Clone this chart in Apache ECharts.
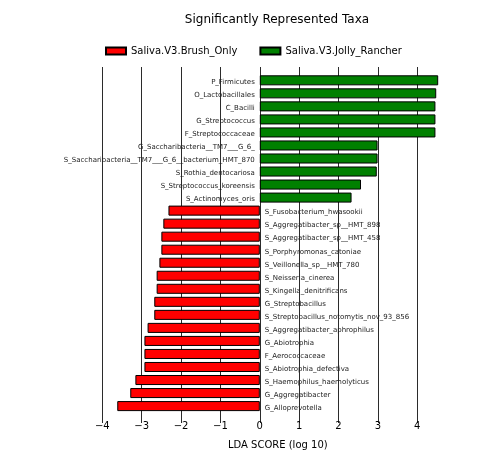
<!DOCTYPE html>
<html>
<head>
<meta charset="utf-8">
<script src="https://cdn.jsdelivr.net/npm/echarts@6/dist/echarts.min.js"></script>
<style>
    html, body {margin: 0; padding: 0; background: #fff;}
    #main {width: 504px; height: 464px;}
</style>
</head>
<body>
<div id="main"></div>
<script>
//Jolly_Rancher 组（绿色，正值）
var jollyTaxa = ['P_Firmicutes', 'O_Lactobacillales', 'C_Bacilli', 'G_Streptococcus', 'F_Streptococcaceae',
    'G_Saccharibacteria__TM7___G_6_', 'S_Saccharibacteria__TM7___G_6__bacterium_HMT_870',
    'S_Rothia_dentocariosa', 'S_Streptococcus_koreensis', 'S_Actinomyces_oris'];
var jollyScores = [4.53, 4.48, 4.46, 4.46, 4.46, 2.99, 2.99, 2.97, 2.57, 2.33];

//Brush_Only 组（红色，负值）
var brushTaxa = ['S_Fusobacterium_hwasookii', 'S_Aggregatibacter_sp__HMT_898', 'S_Aggregatibacter_sp__HMT_458',
    'S_Porphyromonas_catoniae', 'S_Veillonella_sp__HMT_780', 'S_Neisseria_cinerea', 'S_Kingella_denitrificans',
    'G_Streptobacillus', 'S_Streptobacillus_notomytis_nov_93_856', 'S_Aggregatibacter_aphrophilus',
    'G_Abiotrophia', 'F_Aerococcaceae', 'S_Abiotrophia_defectiva', 'S_Haemophilus_haemolyticus',
    'G_Aggregatibacter', 'G_Alloprevotella'];
var brushScores = [-2.32, -2.45, -2.50, -2.50, -2.55, -2.62, -2.62, -2.68, -2.68, -2.85,
    -2.93, -2.93, -2.93, -3.16, -3.29, -3.62];

var xTicks = [-4, -3, -2, -1, 0, 1, 2, 3, 4];

var categories = jollyTaxa.concat(brushTaxa);
var jollyData = jollyScores.concat(brushTaxa.map(function () { return '-'; }));
var brushData = jollyTaxa.map(function () { return '-'; }).concat(brushScores);

var font = 'DejaVu Sans';

var barLabel = function (pos) {
    return {
        show: true,
        position: pos,
        distance: 5,
        offset: [0, 2],
        fontFamily: font,
        fontSize: 7,
        color: '#222',
        formatter: function (p) { return p.name; }
    };
};

var myChart = echarts.init(document.getElementById('main'));
myChart.setOption({
    animation: false,
    title: {
        text: 'Significantly Represented Taxa',
        left: 272,
        textAlign: 'center',
        top: 9,
        textStyle: {fontFamily: font, fontSize: 12, fontWeight: 'normal', color: '#000'}
    },
    legend: {
        left: 100,
        top: 41,
        itemWidth: 20,
        itemHeight: 7,
        itemGap: 22,
        icon: 'rect',
        textStyle: {fontFamily: font, fontSize: 10, color: '#000'},
        data: ['Saliva.V3.Brush_Only', 'Saliva.V3.Jolly_Rancher']
    },
    grid: [
        //网格线与刻度
        {left: 102.3, right: 86.7, top: 67, bottom: 46},
        //柱子
        {left: 102.3, right: 47.3, top: 73.8, bottom: 51.4}
    ],
    xAxis: [
        {
            gridIndex: 0,
            type: 'value',
            min: xTicks[0],
            max: xTicks[xTicks.length - 1],
            interval: 1,
            name: 'LDA SCORE (log 10)',
            nameLocation: 'middle',
            nameGap: 22,
            nameTextStyle: {fontFamily: font, fontSize: 10, color: '#000', padding: [0, 0, 0, 36]},
            axisLine: {show: false},
            axisTick: {show: true, length: 5, lineStyle: {color: '#2b2b2b', width: 1}},
            axisLabel: {
                margin: 3,
                fontFamily: font,
                fontSize: 10,
                color: '#000',
                formatter: function (v) { return String(v).replace('-', '\u2212'); }
            },
            splitLine: {show: true, lineStyle: {color: '#2b2b2b', width: 1}}
        },
        {
            gridIndex: 1,
            type: 'value',
            min: -4,
            max: 5,
            show: false,
            splitLine: {show: false}
        }
    ],
    yAxis: [
        {gridIndex: 0, type: 'category', data: categories, show: false},
        {gridIndex: 1, type: 'category', data: categories, inverse: true, show: false}
    ],
    series: [
        {
            name: 'Saliva.V3.Brush_Only',
            type: 'bar',
            xAxisIndex: 1,
            yAxisIndex: 1,
            data: brushData,
            barCategoryGap: '23%',
            barGap: '-100%',
            itemStyle: {color: '#ff0000', borderColor: '#000', borderWidth: 1},
            label: barLabel('right')
        },
        {
            name: 'Saliva.V3.Jolly_Rancher',
            type: 'bar',
            xAxisIndex: 1,
            yAxisIndex: 1,
            data: jollyData,
            barCategoryGap: '23%',
            barGap: '-100%',
            itemStyle: {color: '#008000', borderColor: '#000', borderWidth: 1},
            label: barLabel('left')
        }
    ]
});
</script>
</body>
</html>
